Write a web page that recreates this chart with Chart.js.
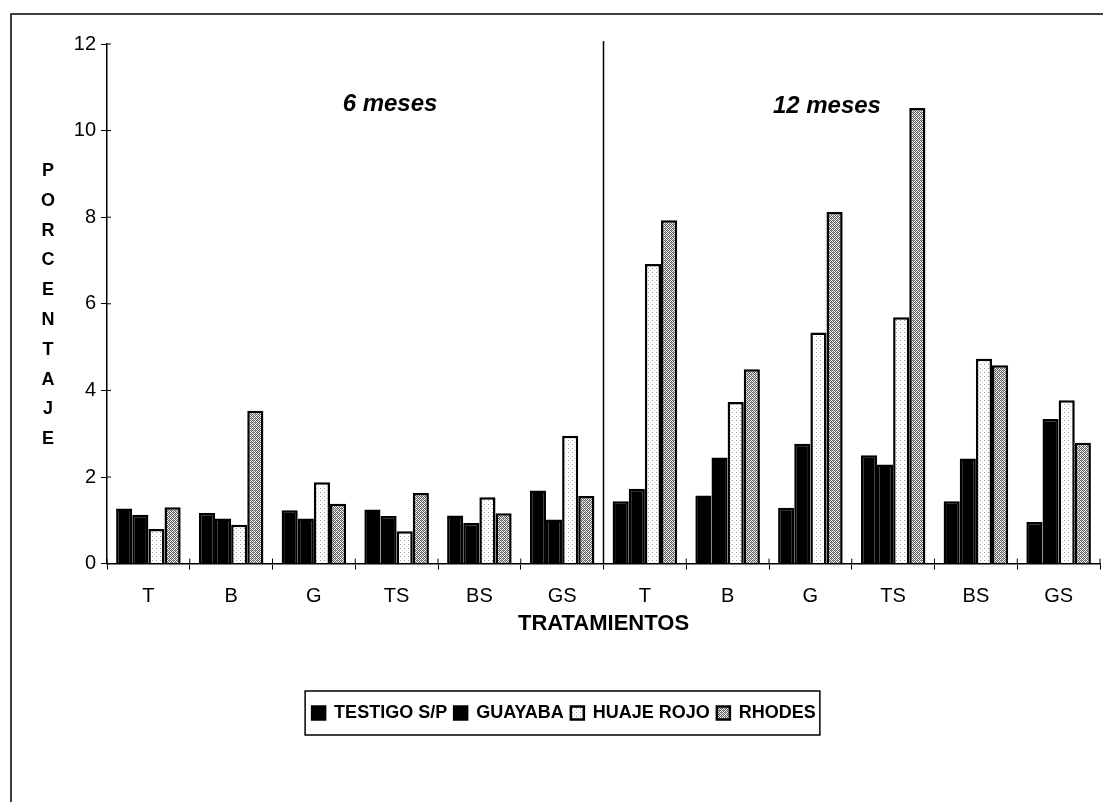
<!DOCTYPE html>
<html>
<head>
<meta charset="utf-8">
<script src="https://cdn.jsdelivr.net/npm/chart.js@4.4.1/dist/chart.umd.min.js"></script>
<style>
  body { margin: 0; background: #fff; }
  #wrap { width: 1103px; height: 802px; }
</style>
</head>
<body>
<div id="wrap"><canvas id="chart" width="1103" height="802"></canvas></div>
<script>
// tratamientos, 6 meses then 12 meses
const categories = ['T', 'B', 'G', 'TS', 'BS', 'GS', 'T', 'B', 'G', 'TS', 'BS', 'GS']
const testigo = [1.27, 1.17, 1.23, 1.25, 1.11, 1.69, 1.44, 1.57, 1.29, 2.50, 1.44, 0.96]
const guayaba = [1.13, 1.04, 1.04, 1.10, 0.94, 1.02, 1.73, 2.45, 2.77, 2.29, 2.43, 3.34]
const huajeRojo = [0.80, 0.90, 1.88, 0.75, 1.53, 2.95, 6.92, 3.73, 5.34, 5.69, 4.73, 3.77]
const rhodes = [1.30, 3.53, 1.38, 1.63, 1.16, 1.56, 7.93, 4.49, 8.12, 10.52, 4.58, 2.79]
const seriesNames = ['TESTIGO S/P', 'GUAYABA', 'HUAJE ROJO', 'RHODES']
const periodLabels = ['6 meses', '12 meses']
const yTitle = 'PORCENTAJE'
const xTitle = 'TRATAMIENTOS'

const FONT = "'Liberation Sans', Arial, sans-serif"

function makePattern(kind) {
    const c = document.createElement('canvas')
    c.width = 4
    c.height = 4
    const g = c.getContext('2d')
    g.fillStyle = '#fff'
    g.fillRect(0, 0, 4, 4)
    if (kind === 'dots') {
        g.fillStyle = '#9a9a9a'
        g.fillRect(0, 0, 1, 1)
        g.fillStyle = '#d0d0d0'
        g.fillRect(2, 2, 1, 1)
    } else {
        g.fillStyle = '#5e5e5e'
        g.fillRect(0, 0, 1, 1)
        g.fillRect(2, 0, 1, 1)
        g.fillRect(1, 1, 1, 1)
        g.fillRect(3, 1, 1, 1)
        g.fillRect(0, 2, 1, 1)
        g.fillRect(2, 2, 1, 1)
        g.fillRect(1, 3, 1, 1)
        g.fillRect(3, 3, 1, 1)
        g.fillStyle = '#a8a8a8'
        g.fillRect(1, 0, 1, 1)
        g.fillRect(3, 2, 1, 1)
    }
    return g.createPattern(c, 'repeat')
}

const extras = {
    id: 'extras',
    afterDraw(chart) {
        const ctx = chart.ctx
        const x = chart.scales.x
        const y = chart.scales.y
        const area = chart.chartArea
        ctx.save()
        ctx.strokeStyle = '#000'
        ctx.fillStyle = '#000'

        // page frame (left and top edges)
        ctx.lineWidth = 1.5
        ctx.beginPath()
        ctx.moveTo(11, 802)
        ctx.lineTo(11, 14)
        ctx.lineTo(1103, 14)
        ctx.stroke()

        // divider between 6 and 12 meses
        const xd = x.getPixelForValue(5.5)
        ctx.lineWidth = 1.5
        ctx.beginPath()
        ctx.moveTo(xd, area.top - 3)
        ctx.lineTo(xd, area.bottom)
        ctx.stroke()

        // inward tick marks
        ctx.lineWidth = 1
        ctx.beginPath()
        for (let v = 0; v <= 12; v += 2) {
            const py = y.getPixelForValue(v)
            ctx.moveTo(area.left, py)
            ctx.lineTo(area.left + 4, py)
        }
        for (let i = 0; i <= categories.length; i++) {
            const px = x.getPixelForValue(i - 0.5)
            ctx.moveTo(px, area.bottom)
            ctx.lineTo(px, area.bottom - 5)
        }
        ctx.stroke()

        // period labels
        ctx.font = 'italic bold 24px ' + FONT
        ctx.textAlign = 'center'
        ctx.textBaseline = 'middle'
        ctx.fillText(periodLabels[0], x.getPixelForValue(2.92), y.getPixelForValue(10.6))
        ctx.fillText(periodLabels[1], x.getPixelForValue(8.2), y.getPixelForValue(10.55))

        // y title, stacked letters
        ctx.font = 'bold 18px ' + FONT
        const letters = yTitle.split('')
        letters.forEach((ch, i) => {
            ctx.fillText(ch, 48, 171 + i * 29.8)
        })

        // legend border
        const boxes = chart.legend.legendHitBoxes
        if (boxes && boxes.length) {
            const l = Math.min(...boxes.map(b => b.left)) - 7
            const r = Math.max(...boxes.map(b => b.left + b.width)) + 4
            const t = boxes[0].top
            const h = boxes[0].height
            ctx.lineWidth = 1.5
            ctx.strokeRect(l, t + h / 2 - 22, r - l, 44)
        }
        ctx.restore()
    }
}

const huajePattern = makePattern('dots')
const rhodesPattern = makePattern('check')

let myChart = new Chart(document.getElementById('chart'), {
    type: 'bar',
    data: {
        labels: categories,
        datasets: [
            { label: seriesNames[0], data: testigo, backgroundColor: '#000', borderColor: '#000', borderWidth: 2.5 },
            { label: seriesNames[1], data: guayaba, backgroundColor: '#000', borderColor: '#000', borderWidth: 2.5 },
            { label: seriesNames[2], data: huajeRojo, backgroundColor: huajePattern, borderColor: '#000', borderWidth: 2.5 },
            { label: seriesNames[3], data: rhodes, backgroundColor: rhodesPattern, borderColor: '#000', borderWidth: 2.5 }
        ]
    },
    options: {
        responsive: false,
        animation: false,
        categoryPercentage: 0.78,
        barPercentage: 1.0,
        layout: { padding: { left: 28, right: 3, top: 44, bottom: 70 } },
        scales: {
            x: {
                grid: { drawOnChartArea: false, tickLength: 6, color: '#000', lineWidth: 1 },
                border: { color: '#000', width: 1.5 },
                ticks: { color: '#000', font: { family: FONT, size: 20 }, padding: 15, maxRotation: 0, autoSkip: false },
                title: { display: true, text: xTitle, color: '#000', font: { family: FONT, size: 22, weight: 'bold' }, padding: { top: -13, bottom: 60 } }
            },
            y: {
                min: 0,
                max: 12,
                afterFit(scale) { scale.width = 79 },
                grid: { drawOnChartArea: false, tickLength: 6, color: '#000', lineWidth: 1 },
                border: { color: '#000', width: 1.5 },
                ticks: { stepSize: 2, color: '#000', font: { family: FONT, size: 20 }, padding: 5 }
            }
        },
        plugins: {
            legend: {
                position: 'bottom',
                labels: {
                    color: '#000',
                    boxWidth: 13,
                    boxHeight: 13,
                    padding: 7,
                    font: { family: FONT, size: 18, weight: 'bold' }
                }
            },
            tooltip: { enabled: false }
        }
    },
    plugins: [extras]
});
</script>
</body>
</html>
